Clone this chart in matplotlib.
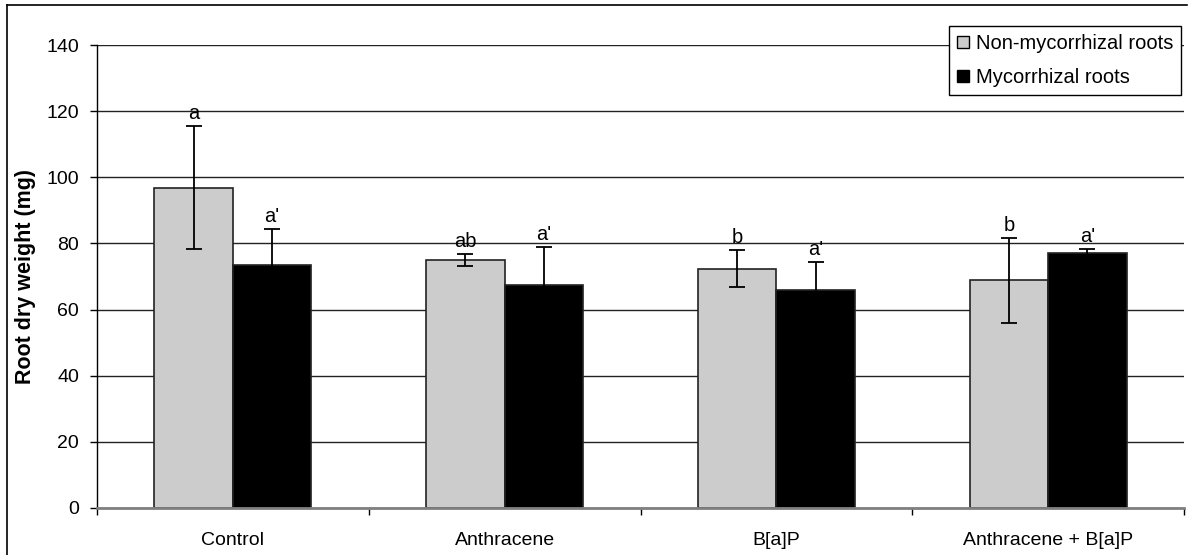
import matplotlib
matplotlib.use("Agg")
import matplotlib.pyplot as plt
import numpy as np
from matplotlib.lines import Line2D

categories = ["Control", "Anthracene", "B[a]P", "Anthracene + B[a]P"]
series_names = ["Non-mycorrhizal roots", "Mycorrhizal roots"]
nonmyc = [96.9, 75.0, 72.4, 68.8]
nonmyc_err = [18.7, 1.9, 5.6, 12.8]
myc = [73.5, 67.3, 65.9, 77.0]
myc_err = [11.0, 11.6, 8.5, 1.3]
nonmyc_letters = ["a", "ab", "b", "b"]
myc_letters = ["a'", "a'", "a'", "a'"]
yticks = [0, 20, 40, 60, 80, 100, 120, 140]

plt.rcParams['font.family'] = ['Liberation Sans', 'DejaVu Sans']

W, H = 1194, 555
fig = plt.figure(figsize=(W / 100, H / 100), dpi=100)
ax = fig.add_axes([97 / W, 1 - 508 / H, (1184 - 97) / W, (508 - 45) / H])

x = np.arange(len(categories))
bw = 0.289
gray = "#cccccc"
ekw = dict(ecolor="black", elinewidth=1.3, capsize=6, capthick=1.3)
ax.bar(x - bw / 2, nonmyc, bw, color=gray, edgecolor="#222222", linewidth=1.2,
       yerr=nonmyc_err, error_kw=ekw, zorder=3)
ax.bar(x + bw / 2, myc, bw, color="black", edgecolor="#222222", linewidth=1.2,
       yerr=myc_err, error_kw=ekw, zorder=3)

for i in range(len(categories)):
    ax.annotate(nonmyc_letters[i], (x[i] - bw / 2, nonmyc[i] + nonmyc_err[i]),
                xytext=(0, 2), textcoords="offset points", ha="center", va="bottom",
                fontsize=14.5, zorder=5)
    ax.annotate(myc_letters[i], (x[i] + bw / 2, myc[i] + myc_err[i]),
                xytext=(0, 2), textcoords="offset points", ha="center", va="bottom",
                fontsize=14.5, zorder=5)

ax.set_xlim(-0.5, len(categories) - 0.5)
ax.set_ylim(0, 140)
ax.set_yticks(yticks)
ax.set_yticklabels([str(v) for v in yticks], fontsize=14)
ax.yaxis.grid(True, color="#222222", linewidth=1.0, zorder=0)
ax.set_axisbelow(True)

ax.set_xticks(x)
ax.set_xticklabels(categories, fontsize=14)
ax.tick_params(axis="x", length=0, pad=17)
# category boundary ticks
ax.set_xticks(np.arange(-0.5, len(categories), 1.0), minor=True)
ax.tick_params(axis="x", which="minor", length=5, width=1.0, color="black", direction="out")
ax.tick_params(axis="y", length=5, width=1.0, direction="out", pad=8)

for s in ["top", "right"]:
    ax.spines[s].set_visible(False)
ax.spines["left"].set_color("black")
ax.spines["left"].set_linewidth(1.0)
ax.spines["bottom"].set_color("#808080")
ax.spines["bottom"].set_linewidth(2.0)
ax.spines["bottom"].set_zorder(4)

ax.set_ylabel("Root dry weight (mg)", fontsize=15.5, fontweight="bold")
ax.yaxis.set_label_coords((36 - 97) / (1184 - 97), 0.5)

handles = [
    Line2D([], [], marker="s", linestyle="none", markersize=9,
           markerfacecolor=gray, markeredgecolor="black", markeredgewidth=1.0),
    Line2D([], [], marker="s", linestyle="none", markersize=9,
           markerfacecolor="black", markeredgecolor="black"),
]
leg = ax.legend(handles, series_names, loc="upper right",
                bbox_to_anchor=((1181 - 97) / (1184 - 97), 1 + (45 - 26) / (508 - 45)),
                fontsize=14.5, frameon=True, fancybox=False, framealpha=1,
                edgecolor="black", handlelength=0.6, handletextpad=0.3,
                borderpad=0.4, labelspacing=0.75, borderaxespad=0)
leg.get_frame().set_linewidth(1.0)
leg.set_zorder(10)

# figure border (left and top)
fig.add_artist(Line2D([7 / W, 7 / W], [0, 1 - 5 / H], color="black", linewidth=1.2,
                      transform=fig.transFigure))
fig.add_artist(Line2D([7 / W, 1187 / W], [1 - 5 / H, 1 - 5 / H], color="black",
                      linewidth=1.2, transform=fig.transFigure))

fig.savefig("out.png", dpi=100)
